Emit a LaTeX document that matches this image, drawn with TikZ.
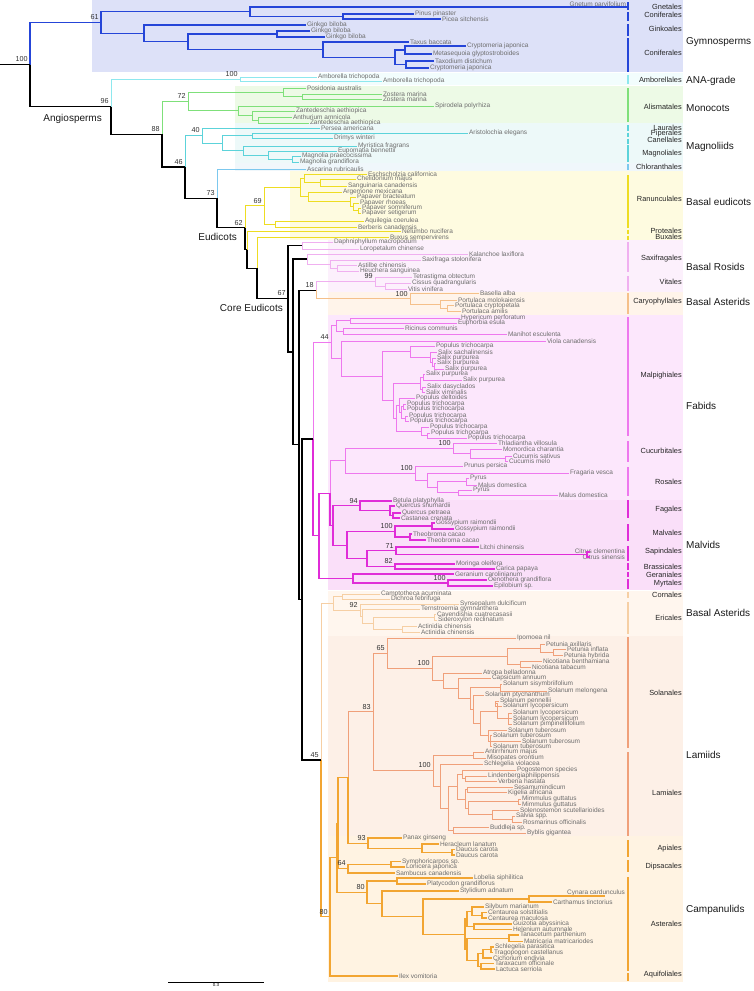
\documentclass[tikz,border=0pt]{standalone}
\usepackage{fontspec}
\setmainfont{Liberation Sans}
\usetikzlibrary{calc}
\definecolor{gymc}{HTML}{2545D8}
\definecolor{anac}{HTML}{8EE8EE}
\definecolor{monc}{HTML}{7FE07A}
\definecolor{magc}{HTML}{5CD3DA}
\definecolor{chlc}{HTML}{7CC8EE}
\definecolor{eudc}{HTML}{EEDD22}
\definecolor{rosc}{HTML}{F0B0F0}
\definecolor{carc}{HTML}{F5C08A}
\definecolor{fabc}{HTML}{EE78EE}
\definecolor{malc}{HTML}{E02CD8}
\definecolor{astc}{HTML}{F6CFA4}
\definecolor{lamc}{HTML}{F0A07A}
\definecolor{camc}{HTML}{F2A532}
\definecolor{bgGym}{HTML}{DDE1F8}
\definecolor{bgAna}{HTML}{F2FDFD}
\definecolor{bgMon}{HTML}{EDFAE6}
\definecolor{bgMag}{HTML}{EDF9F9}
\definecolor{bgChl}{HTML}{F0F7FB}
\definecolor{bgEud}{HTML}{FEFBE0}
\definecolor{bgRos}{HTML}{FCF0FC}
\definecolor{bgCar}{HTML}{FFF4EA}
\definecolor{bgFab}{HTML}{FCE7FC}
\definecolor{bgMal}{HTML}{FADFF9}
\definecolor{bgAst}{HTML}{FFF6EE}
\definecolor{bgLam}{HTML}{FDF0E7}
\definecolor{bgCam}{HTML}{FFF3E2}
\definecolor{tipgray}{HTML}{6E6E6E}
\newcommand\tipfont{\fontsize{6.5}{7}\selectfont}
\newcommand\ordfont{\fontsize{7.4}{8}\selectfont}
\newcommand\grpfont{\fontsize{10}{11}\selectfont}
\newcommand\bootfont{\fontsize{7.2}{8}\selectfont}
% tip: name, x, y, text
\newcommand\leaf[4]{\coordinate (#1) at (#2,#3); \node[tiplab] (#1l) at (#1) {#4};}
% inner node at x, halfway between two children
\newcommand\cladept[4]{\path ($(#3)!.5!(#4)$) coordinate (#1m);
  \path let \p1=(#1m) in coordinate (#1) at (#2pt,\y1);}
\newcommand\clade[5]{\cladept{#2}{#3}{#4}{#5}\draw[#1] (#2) |- (#4) (#2) |- (#5);}
\tikzset{
  tiplab/.style={anchor=west, inner sep=0.8pt, text=tipgray, font=\tipfont},
  ordlab/.style={anchor=east, inner sep=0pt, text=black!85, font=\ordfont},
  grplab/.style={anchor=west, inner sep=0pt, text=black!90, font=\grpfont},
  boot/.style={anchor=south east, inner sep=1pt, xshift=-1.2pt, yshift=1.5pt, text=black!80, font=\bootfont},
  bar/.style={line width=2pt},
  backbone/.style={draw=black, line width=1.2pt},
  gymno/.style={draw=gymc, line width=1.2pt},
  anag/.style={draw=anac, line width=0.9pt},
  monoc/.style={draw=monc, line width=0.9pt},
  magno/.style={draw=magc, line width=0.9pt},
  chlor/.style={draw=chlc, line width=0.9pt},
  beud/.style={draw=eudc, line width=0.9pt},
  bros/.style={draw=rosc, line width=0.9pt},
  cary/.style={draw=carc, line width=0.9pt},
  fabid/.style={draw=fabc, line width=0.9pt},
  malvid/.style={draw=malc, line width=1.1pt},
  bast/.style={draw=astc, line width=0.9pt},
  lamiid/.style={draw=lamc, line width=0.9pt},
  campa/.style={draw=camc, line width=1.1pt}
}
\begin{document}
\begin{tikzpicture}[x=1pt,y=-1pt]
\useasboundingbox (0,0) rectangle (754,991);
% shaded clades
\fill[bgGym] (92,0) rectangle (683,72);
\fill[bgAna] (320,73) rectangle (683,85);
\fill[bgMon] (235,86) rectangle (683,123);
\fill[bgMag] (235,123) rectangle (683,163);
\fill[bgChl] (235,163) rectangle (683,171);
\fill[bgEud] (290,171) rectangle (683,240);
\fill[bgRos] (328,240) rectangle (683,292);
\fill[bgCar] (328,292) rectangle (683,315);
\fill[bgFab] (328,315) rectangle (683,500);
\fill[bgMal] (328,500) rectangle (683,590);
\fill[bgAst] (328,591) rectangle (683,636);
\fill[bgLam] (328,636) rectangle (683,836);
\fill[bgCam] (328,836) rectangle (683,982);

% Gymnosperms
\coordinate (gnet) at (627,7);
\node[tiplab, anchor=east] (gnetl) at (627,4.5) {Gnetum parvifolium};
\leaf{pinus}{414}{14}{Pinus pinaster}
\leaf{picea}{441}{19}{Picea sitchensis}
\leaf{ginkA}{306}{25}{Ginkgo biloba}
\leaf{ginkB}{310}{31}{Ginkgo biloba}
\leaf{ginkC}{325}{37}{Ginkgo biloba}
\leaf{taxus}{409}{42}{Taxus baccata}
\leaf{cryA}{466}{46}{Cryptomeria japonica}
\leaf{meta}{432}{54}{Metasequoia glyptostroboides}
\leaf{taxod}{434}{61}{Taxodium distichum}
\leaf{cryB}{429}{68}{Cryptomeria japonica}
\clade{gymno}{pin}{343}{pinus}{picea}
\clade{gymno}{gnp}{250}{gnet}{pin}
\clade{gymno}{gk2}{277}{ginkB}{ginkC}
\clade{gymno}{cu1}{405}{cryA}{meta}
\clade{gymno}{cu2}{406}{taxod}{cryB}
\clade{gymno}{cu3}{395}{cu1}{cu2}
\clade{gymno}{cu4}{323}{taxus}{cu3}
\clade{gymno}{gk3}{188}{gk2}{cu4}
\clade{gymno}{gk4}{144}{ginkA}{gk3}
\clade{gymno}{gym}{101}{gnp}{gk4}

% ANA grade
\leaf{ambA}{317}{77}{Amborella trichopoda}
\leaf{ambB}{382}{81}{Amborella trichopoda}
\clade{anag}{amb}{240}{ambA}{ambB}

% Monocots
\leaf{posi}{306}{88}{Posidonia australis}
\leaf{zosA}{382}{94}{Zostera marina}
\leaf{zosB}{382}{99}{Zostera marina}
\leaf{spiro}{434}{106}{Spirodela polyrhiza}
\leaf{zantA}{295}{111}{Zantedeschia aethiopica}
\leaf{anth}{292}{117}{Anthurium amnicola}
\leaf{zantB}{309}{123}{Zantedeschia aethiopica}
\clade{monoc}{zos}{302}{zosA}{zosB}
\clade{monoc}{mz1}{283}{posi}{zos}
\clade{monoc}{m4}{258}{anth}{zantB}
\clade{monoc}{m3}{252}{zantA}{m4}
\clade{monoc}{m2}{238}{spiro}{m3}
\clade{monoc}{mono}{188}{mz1}{m2}

% Magnoliids
\leaf{pers}{320}{128}{Persea americana}
\leaf{aris}{468}{133}{Aristolochia elegans}
\leaf{drim}{333}{138}{Drimys winteri}
\leaf{myri}{357}{146}{Myristica fragrans}
\leaf{eupo}{337}{151}{Eupomatia bennettii}
\leaf{magA}{301}{156}{Magnolia praecocissima}
\leaf{magB}{299}{162}{Magnolia grandiflora}
\clade{magno}{mgb}{252}{aris}{drim}
\clade{magno}{mge}{292}{magA}{magB}
\clade{magno}{mgd}{268}{eupo}{mge}
\clade{magno}{mgc}{243}{myri}{mgd}
\clade{magno}{mg1}{222}{mgb}{mgc}
\clade{magno}{mag}{202}{pers}{mg1}

% Chloranthales
\leaf{asca}{306}{169}{Ascarina rubricaulis}

% Basal eudicots
\leaf{esch}{367}{174}{Eschscholzia californica}
\leaf{chel}{356}{179}{Chelidonium majus}
\leaf{sang}{347}{186}{Sanguinaria canadensis}
\leaf{arge}{342}{192}{Argemone mexicana}
\leaf{papA}{356}{197}{Papaver bracteatum}
\leaf{papB}{359}{203}{Papaver rhoeas}
\leaf{papC}{361}{208}{Papaver somniferum}
\leaf{papD}{361}{213}{Papaver setigerum}
\leaf{aqui}{364}{221}{Aquilegia coerulea}
\leaf{berb}{357}{227}{Berberis canadensis}
\leaf{nelu}{401}{231.5}{Nelumbo nucifera}
\leaf{buxu}{389}{237.5}{Buxus sempervirens}
\clade{beud}{pa4}{320}{chel}{sang}
\clade{beud}{pa2}{304}{esch}{pa4}
\clade{beud}{pa7}{358}{papC}{papD}
\clade{beud}{pa6}{353}{papB}{pa7}
\clade{beud}{pa5}{350}{papA}{pa6}
\clade{beud}{pa3}{308}{arge}{pa5}
\clade{beud}{pa1}{300}{pa2}{pa3}
\clade{beud}{rb}{275}{aqui}{berb}
\clade{beud}{ran}{264}{pa1}{rb}

% Saxifragales and Vitales
\leaf{daph}{333}{242}{Daphniphyllum macropodum}
\leaf{loro}{359}{249}{Loropetalum chinense}
\leaf{kala}{468}{254}{Kalanchoe laxiflora}
\leaf{saxi}{421}{260}{Saxifraga stolonifera}
\leaf{asti}{357}{265}{Astilbe chinensis}
\leaf{heuc}{359}{271}{Heuchera sanguinea}
\clade{bros}{s0}{302}{daph}{loro}
\clade{bros}{s3}{337}{asti}{heuc}
\clade{bros}{s2}{330}{saxi}{s3}
\clade{bros}{s1}{307}{kala}{s2}
\leaf{tetr}{412}{277}{Tetrastigma obtectum}
\leaf{ciss}{411}{283}{Cissus quadrangularis}
\leaf{viti}{407}{289}{Vitis vinifera}
\clade{bros}{v2}{385}{ciss}{viti}
\clade{bros}{vit}{375}{tetr}{v2}

% Caryophyllales
\leaf{base}{479}{293.5}{Basella alba}
\leaf{porA}{457}{300}{Portulaca molokaiensis}
\leaf{porB}{454}{305.5}{Portulaca cryptopetala}
\leaf{porC}{461}{311}{Portulaca amilis}
\clade{cary}{p2}{447}{porB}{porC}
\clade{cary}{p1}{440}{porA}{p2}
\clade{cary}{car}{410}{base}{p1}

% Fabids
\leaf{hype}{460}{318}{Hypericum perforatum}
\leaf{euph}{457}{323}{Euphorbia esula}
\leaf{rici}{404}{328}{Ricinus communis}
\leaf{mani}{507}{334}{Manihot esculenta}
\leaf{viol}{546}{341}{Viola canadensis}
\leaf{popA}{435}{346}{Populus trichocarpa}
\leaf{salA}{437}{352}{Salix sachalinensis}
\leaf{salB}{436}{358}{Salix purpurea}
\leaf{salC}{436}{363}{Salix purpurea}
\leaf{salD}{444}{369}{Salix purpurea}
\leaf{salE}{425}{374}{Salix purpurea}
\leaf{salF}{462}{380}{Salix purpurea}
\leaf{salG}{426}{387}{Salix dasyclados}
\leaf{salH}{425}{392}{Salix viminalis}
\leaf{popB}{415}{398}{Populus deltoides}
\leaf{popC}{406}{404}{Populus trichocarpa}
\leaf{popD}{406}{409}{Populus trichocarpa}
\leaf{popE}{408}{416}{Populus trichocarpa}
\leaf{popF}{409}{421}{Populus trichocarpa}
\leaf{popG}{429}{427}{Populus trichocarpa}
\leaf{popH}{430}{433}{Populus trichocarpa}
\leaf{popI}{467}{438}{Populus trichocarpa}
\clade{fabid}{mpa}{350}{hype}{euph}
\clade{fabid}{mpb}{343}{rici}{mani}
\clade{fabid}{mp1}{336}{mpa}{mpb}
\clade{fabid}{sa4}{434}{salC}{salD}
\clade{fabid}{sa3}{432}{salB}{sa4}
\clade{fabid}{sa2}{430}{salA}{sa3}
\clade{fabid}{sa1}{410}{popA}{sa2}
\clade{fabid}{sa8}{423}{salE}{salF}
\clade{fabid}{sa9}{422}{salG}{salH}
\clade{fabid}{sa6}{420}{sa8}{sa9}
\clade{fabid}{sa13}{403}{popC}{popD}
\clade{fabid}{sa14}{405}{popE}{popF}
\clade{fabid}{sa12}{401}{sa13}{sa14}
\clade{fabid}{sa10}{399}{popB}{sa12}
\clade{fabid}{sa15}{427}{popH}{popI}
\clade{fabid}{sa11}{421}{popG}{sa15}
\clade{fabid}{sa7}{396}{sa10}{sa11}
\clade{fabid}{sa5}{393}{sa6}{sa7}
\clade{fabid}{sal}{382}{sa1}{sa5}
\clade{fabid}{mp2}{341}{viol}{sal}
\clade{fabid}{malp}{331}{mp1}{mp2}
\leaf{thla}{497}{443}{Thladiantha villosula}
\leaf{momo}{502}{449}{Momordica charantia}
\leaf{cucA}{512}{456}{Cucumis sativus}
\leaf{cucB}{508}{461}{Cucumis melo}
\clade{fabid}{cb3}{505}{cucA}{cucB}
\clade{fabid}{cb2}{470}{momo}{cb3}
\clade{fabid}{cuc}{453}{thla}{cb2}
\leaf{prun}{463}{466}{Prunus persica}
\leaf{frag}{569}{473}{Fragaria vesca}
\leaf{pyrA}{469}{478}{Pyrus}
\leaf{malA}{477}{485}{Malus domestica}
\leaf{pyrB}{472}{490}{Pyrus}
\leaf{malB}{558}{495}{Malus domestica}
\clade{fabid}{ro4}{466}{pyrA}{malA}
\clade{fabid}{ro5}{458}{pyrB}{malB}
\clade{fabid}{ro3}{437}{ro4}{ro5}
\clade{fabid}{ro2}{427}{frag}{ro3}
\clade{fabid}{ros}{415}{prun}{ro2}
\clade{fabid}{fab2}{345}{cuc}{ros}

% Malvids
\leaf{betu}{392}{501}{Betula platyphylla}
\leaf{querA}{395}{506}{Quercus shumardii}
\leaf{querB}{401}{513}{Quercus petraea}
\leaf{cast}{400}{518}{Castanea crenata}
\clade{malvid}{f3}{393}{querB}{cast}
\clade{malvid}{f2}{390}{querA}{f3}
\clade{malvid}{fag}{360}{betu}{f2}
\leaf{gosA}{435}{523}{Gossypium raimondii}
\leaf{gosB}{454}{529}{Gossypium raimondii}
\leaf{theA}{412}{534}{Theobroma cacao}
\leaf{theB}{426}{540}{Theobroma cacao}
\clade{malvid}{mv1}{432}{gosA}{gosB}
\clade{malvid}{mv2}{410}{theA}{theB}
\clade{malvid}{mal}{395}{mv1}{mv2}
\leaf{litc}{479}{547}{Litchi chinensis}
\coordinate (citA) at (590,552);
\coordinate (citB) at (590,557);
\node[tiplab, anchor=east] (citAl) at (626,551.5) {Citrus clementina};
\node[tiplab, anchor=east] (citBl) at (626,557) {Citrus sinensis};
\clade{malvid}{ci}{587}{citA}{citB}
\clade{malvid}{sap}{396}{litc}{ci}
\leaf{mori}{455}{564}{Moringa oleifera}
\leaf{cari}{495}{569}{Carica papaya}
\clade{malvid}{bra}{395}{mori}{cari}
\clade{malvid}{sb}{367}{sap}{bra}
\clade{malvid}{msb}{347}{mal}{sb}
\clade{malvid}{mlv}{333}{fag}{msb}
\leaf{gera}{454}{574}{Geranium carolinianum}
\leaf{oeno}{487}{580}{Oenothera grandiflora}
\leaf{epil}{493}{586}{Epilobium sp.}
\clade{malvid}{myr}{448}{oeno}{epil}
\clade{malvid}{gm}{353}{gera}{myr}
\cladept{fm}{330}{fab2}{mlv}
\draw[fabid] (fm) |- (fab2);
\draw[malvid] (fm) |- (mlv);
\clade{malvid}{mvd}{319}{fm}{gm}
\cladept{rosid}{313}{malp}{mvd}
\draw[fabid] (rosid) |- (malp);
\draw[malvid] (rosid) |- (mvd);

% Cornales and Ericales
\leaf{camp}{380}{594}{Camptotheca acuminata}
\leaf{dich}{390}{599}{Dichroa febrifuga}
\clade{bast}{cor}{342}{camp}{dich}
\leaf{syns}{459}{604}{Synsepalum dulcificum}
\leaf{tern}{420}{609}{Ternstroemia gymnanthera}
\leaf{cave}{436}{614}{Cavendishia cuatrecasasii}
\leaf{side}{437}{620}{Sideroxylon reclinatum}
\leaf{actA}{417}{626}{Actinidia chinensis}
\leaf{actB}{420}{632}{Actinidia chinensis}
\clade{bast}{er4}{434}{cave}{side}
\clade{bast}{er5}{402}{actA}{actB}
\clade{bast}{er3}{373}{er4}{er5}
\clade{bast}{er2}{362}{tern}{er3}
\clade{bast}{eri}{360}{syns}{er2}
\clade{bast}{ce}{333}{cor}{eri}

% Lamiids
\leaf{ipom}{516}{638}{Ipomoea nil}
\leaf{petA}{545}{644}{Petunia axillaris}
\leaf{petB}{566}{649.5}{Petunia inflata}
\leaf{petC}{563}{655.5}{Petunia hybrida}
\leaf{nicA}{542}{661}{Nicotiana benthamiana}
\leaf{nicB}{531}{667}{Nicotiana tabacum}
\leaf{atro}{482}{673}{Atropa belladonna}
\leaf{caps}{491}{678}{Capsicum annuum}
\leaf{solA}{502}{684}{Solanum sisymbriifolium}
\leaf{solB}{547}{691}{Solanum melongena}
\leaf{solC}{484}{695}{Solanum ptychanthum}
\leaf{solD}{499}{701}{Solanum pennellii}
\leaf{solE}{502}{706}{Solanum lycopersicum}
\leaf{solF}{512}{713}{Solanum lycopersicum}
\leaf{solG}{512}{718.5}{Solanum lycopersicum}
\leaf{solH}{512}{724}{Solanum pimpinellifolium}
\leaf{solI}{507}{730}{Solanum tuberosum}
\leaf{solJ}{492}{735.5}{Solanum tuberosum}
\leaf{solK}{521}{741}{Solanum tuberosum}
\leaf{solL}{492}{746.5}{Solanum tuberosum}
\clade{lamiid}{peti}{553}{petB}{petC}
\clade{lamiid}{petg}{540}{petA}{peti}
\clade{lamiid}{nic}{520}{nicA}{nicB}
\clade{lamiid}{so1}{507}{petg}{nic}
\clade{lamiid}{so5}{500}{solA}{solB}
\clade{lamiid}{so8}{495}{solD}{solE}
\clade{lamiid}{so10}{508}{solF}{solH}
\draw[lamiid] (so10) |- (solG);
\clade{lamiid}{so9}{497}{so8}{so10}
\clade{lamiid}{so12}{490}{solJ}{solL}
\draw[lamiid] (so12) |- (solK);
\clade{lamiid}{so11}{488}{solI}{so12}
\clade{lamiid}{so7}{480}{so9}{so11}
\clade{lamiid}{so6}{473}{solC}{so7}
\clade{lamiid}{so4}{470}{so5}{so6}
\clade{lamiid}{so3}{458}{caps}{so4}
\clade{lamiid}{so2}{443}{atro}{so3}
\clade{lamiid}{sol}{432}{so1}{so2}
\clade{lamiid}{s65}{387}{ipom}{sol}
\leaf{anti}{484}{752}{Antirrhinum majus}
\leaf{miso}{486}{758}{Misopates orontium}
\leaf{schv}{483}{764}{Schlegelia violacea}
\leaf{pogo}{516}{770}{Pogostemon species}
\leaf{lind}{487}{776}{Lindenbergiaphilippensis}
\leaf{verb}{497}{781.5}{Verbena hastata}
\leaf{sesa}{513}{787}{Sesamumindicum}
\leaf{kige}{507}{792.5}{Kigelia africana}
\leaf{mimA}{521}{799}{Mimmulus guttatus}
\leaf{mimB}{521}{804.5}{Mimmulus guttatus}
\leaf{sole}{519}{810.5}{Solenostemon scutellarioides}
\leaf{salv}{515}{816}{Salvia spp.}
\leaf{rosm}{522}{822}{Rosmarinus officinalis}
\leaf{budd}{489}{827.5}{Buddleja sp.}
\leaf{bybl}{526}{833}{Byblis gigantea}
\clade{lamiid}{laa}{473}{anti}{miso}
\clade{lamiid}{lag}{465}{lind}{verb}
\clade{lamiid}{laf}{462}{pogo}{lag}
\clade{lamiid}{lai}{467}{sesa}{kige}
\clade{lamiid}{mim}{518}{mimA}{mimB}
\clade{lamiid}{lal}{512}{salv}{rosm}
\clade{lamiid}{lak}{492}{sole}{lal}
\clade{lamiid}{laj}{468}{mim}{lak}
\clade{lamiid}{lah}{465}{lai}{laj}
\clade{lamiid}{lad}{457}{laf}{lah}
\clade{lamiid}{lae}{453}{budd}{bybl}
\clade{lamiid}{lac}{448}{lad}{lae}
\clade{lamiid}{lab}{440}{schv}{lac}
\clade{lamiid}{lam}{433}{laa}{lab}
\clade{lamiid}{s83}{373}{s65}{lam}

% Campanulids
\leaf{pana}{402}{838}{Panax ginseng}
\leaf{hera}{439}{844}{Heracleum lanatum}
\leaf{dauA}{455}{849.5}{Daucus carota}
\leaf{dauB}{455}{855}{Daucus carota}
\clade{campa}{dau}{452}{dauA}{dauB}
\clade{campa}{ap2}{422}{hera}{dau}
\clade{campa}{api}{368}{pana}{ap2}
\cladept{lmd}{348}{s83}{api}
\draw[lamiid] (lmd) |- (s83);
\draw[campa] (lmd) |- (api);
\leaf{symp}{401}{861.5}{Symphoricarpos sp.}
\leaf{loni}{405}{867}{Lonicera japonica}
\leaf{samb}{395}{873}{Sambucus canadensis}
\clade{campa}{dl}{391}{symp}{loni}
\clade{campa}{dip}{348}{dl}{samb}
\clade{campa}{yn}{338}{lmd}{dip}
\leaf{lobe}{473}{878}{Lobelia siphilitica}
\leaf{plat}{426}{884}{Platycodon grandiflorus}
\leaf{styl}{459}{891}{Stylidium adnatum}
\coordinate (cyna) at (605,896);
\node[tiplab, anchor=east] (cynal) at (626,893) {Cynara cardunculus};
\leaf{cart}{552}{902}{Carthamus tinctorius}
\leaf{sily}{484}{907}{Silybum marianum}
\leaf{ceA}{487}{912.5}{Centaurea solstitialis}
\leaf{ceB}{487}{918}{Centaurea maculosa}
\leaf{guiz}{512}{924}{Guizotia abyssinica}
\leaf{hele}{512}{929.5}{Helenium autumnale}
\leaf{tana}{519}{935}{Tanacetum parthenium}
\leaf{matr}{523}{941.5}{Matricaria matricariodes}
\leaf{schp}{494}{947}{Schlegelia parasitica}
\leaf{trag}{493}{952.5}{Tragopogon castellanus}
\leaf{cich}{492}{958}{Cichorium endivia}
\leaf{tara}{494}{963.5}{Taraxacum officinale}
\leaf{lact}{495}{969}{Lactuca serriola}
\leaf{ilex}{398}{976}{Ilex vomitoria}
\clade{campa}{lp}{397}{lobe}{plat}
\clade{campa}{cc}{529}{cyna}{cart}
\clade{campa}{as6}{482}{ceA}{ceB}
\clade{campa}{as5}{472}{sily}{as6}
\clade{campa}{as7}{474}{guiz}{hele}
\clade{campa}{as4}{467}{as5}{as7}
\clade{campa}{as9}{509}{tana}{matr}
\clade{campa}{as12}{491}{schp}{trag}
\clade{campa}{as11}{483}{as12}{cich}
\clade{campa}{as13}{481}{tara}{lact}
\clade{campa}{as10}{478}{as11}{as13}
\clade{campa}{as8}{467}{as9}{as10}
\clade{campa}{as3}{465}{as4}{as8}
\clade{campa}{as2}{423}{cc}{as3}
\clade{campa}{as1}{382}{styl}{as2}
\clade{campa}{ast}{367}{lp}{as1}
\clade{campa}{xn}{337}{yn}{ast}
\clade{campa}{c80}{330}{xn}{ilex}
\cladept{a45}{321}{ce}{c80}
\draw[bast] (a45) |- (ce);
\draw[campa] (a45) |- (c80);

% backbone
\clade{backbone}{n302}{302}{rosid}{a45}
\cladept{n18}{316}{vit}{car}
\draw[bros] (n18) |- (vit);
\draw[cary] (n18) |- (car);
\clade{backbone}{n299}{299}{n18}{n302}
\clade{backbone}{n293}{293}{s1}{n299}
\clade{backbone}{n67}{288}{s0}{n293}
\cladept{n257}{257}{buxu}{n67}
\draw[beud] (n257) |- (buxu);
\draw[backbone] (n257) |- (n67);
\cladept{x62}{247}{nelu}{n257}
\draw[beud] (x62) |- (nelu);
\draw[backbone] (x62) |- (n257);
\cladept{n62}{245}{ran}{x62}
\draw[beud] (n62) |- (ran);
\draw[backbone] (n62) |- (x62);
\cladept{n73}{217}{asca}{n62}
\draw[chlor] (n73) |- (asca);
\draw[backbone] (n73) |- (n62);
\cladept{n46}{185}{mag}{n73}
\draw[magno] (n46) |- (mag);
\draw[backbone] (n46) |- (n73);
\cladept{n88}{162}{mono}{n46}
\draw[monoc] (n88) |- (mono);
\draw[backbone] (n88) |- (n46);
\cladept{ang}{111}{amb}{n88}
\draw[anag] (ang) |- (amb);
\draw[backbone] (ang) |- (n88);
\cladept{root}{30}{gym}{ang}
\draw[gymno] (root) |- (gym);
\draw[backbone] (root) |- (ang);
\path let \p1=(root) in coordinate (rootbase) at (0pt,\y1);
\draw[backbone] (rootbase) -- (root);

% support values
\node[boot] (b-root) at (root) {100};
\node[boot] (b-gym) at (gym) {61};
\node[boot] (b-ang) at (ang) {96};
\node[boot] (b-amb) at (amb) {100};
\node[boot] (b-mono) at (mono) {72};
\node[boot] (b-n88) at (n88) {88};
\node[boot] (b-mag) at (mag) {40};
\node[boot] (b-n46) at (n46) {46};
\node[boot] (b-n73) at (n73) {73};
\node[boot] (b-ran) at (ran) {69};
\node[boot] (b-n62) at (n62) {62};
\node[boot] (b-n67) at (n67) {67};
\node[boot] (b-n18) at (n18) {18};
\node[boot] (b-vit) at (vit) {99};
\node[boot] (b-car) at (car) {100};
\node[boot] (b-malp) at (malp) {44};
\node[boot] (b-cuc) at (cuc) {100};
\node[boot] (b-ros) at (ros) {100};
\node[boot] (b-fag) at (fag) {94};
\node[boot] (b-mal) at (mal) {100};
\node[boot] (b-sap) at (sap) {71};
\node[boot] (b-bra) at (bra) {82};
\node[boot] (b-myr) at (myr) {100};
\node[boot] (b-eri) at (eri) {92};
\node[boot] (b-s65) at (s65) {65};
\node[boot] (b-sol) at (sol) {100};
\node[boot] (b-s83) at (s83) {83};
\node[boot] (b-a45) at (a45) {45};
\node[boot] (b-lam) at (lam) {100};
\node[boot] (b-api) at (api) {93};
\node[boot] (b-dip) at (dip) {64};
\node[boot] (b-ast) at (ast) {80};
\node[boot] (b-c80) at (c80) {80};

% names on the backbone
\node[grplab, anchor=east] (angio) at (102,119) {Angiosperms};
\node[grplab, anchor=east] (eudi) at (237,237) {Eudicots};
\node[grplab, anchor=east] (coreeu) at (283,308) {Core Eudicots};

% orders
\draw[gymno,bar] (628,2) -- (628,10);
\node[ordlab] (o-gne) at (682,7) {Gnetales};
\draw[gymno,bar] (628,12) -- (628,21);
\node[ordlab] (o-con1) at (682,15) {Coniferales};
\draw[gymno,bar] (628,24) -- (628,36);
\node[ordlab] (o-gin) at (682,29) {Ginkoales};
\draw[gymno,bar] (628,38) -- (628,72);
\node[ordlab] (o-con2) at (682,53) {Coniferales};
\draw[anag,bar] (628,75) -- (628,84);
\node[ordlab] (o-amb) at (682,80) {Amborellales};
\draw[monoc,bar] (628,88) -- (628,122);
\node[ordlab] (o-ali) at (682,107) {Alismatales};
\draw[magno,bar] (628,125) -- (628,131);
\node[ordlab] (o-lau) at (682,127.5) {Laurales};
\draw[magno,bar] (628,132.5) -- (628,137);
\node[ordlab] (o-pip) at (682,133.5) {Piperales};
\draw[magno,bar] (628,138.5) -- (628,143.5);
\node[ordlab] (o-can) at (682,139.5) {Canellales};
\draw[magno,bar] (628,145) -- (628,162);
\node[ordlab] (o-mag) at (682,154) {Magnoliales};
\draw[chlor,bar] (628,164) -- (628,170);
\node[ordlab] (o-chl) at (682,166.5) {Chloranthales};
\draw[beud,bar] (628,175) -- (628,228);
\node[ordlab] (o-ran) at (682,199) {Ranunculales};
\draw[beud,bar] (628,229.5) -- (628,234);
\node[ordlab] (o-pro) at (682,230.5) {Proteales};
\draw[beud,bar] (628,235.5) -- (628,240);
\node[ordlab] (o-bux) at (682,237) {Buxales};
\draw[bros,bar] (628,242) -- (628,272);
\node[ordlab] (o-sax) at (682,259) {Saxifragales};
\draw[bros,bar] (628,276) -- (628,291);
\node[ordlab] (o-vit) at (682,282) {Vitales};
\draw[cary,bar] (628,293) -- (628,314);
\node[ordlab] (o-car) at (682,302) {Caryophyllales};
\draw[fabid,bar] (628,317) -- (628,436);
\node[ordlab] (o-mal) at (682,376) {Malpighiales};
\draw[fabid,bar] (628,441) -- (628,462);
\node[ordlab] (o-cuc) at (682,451) {Cucurbitales};
\draw[fabid,bar] (628,467) -- (628,496);
\node[ordlab] (o-ros) at (682,482) {Rosales};
\draw[malvid,bar] (628,500) -- (628,518);
\node[ordlab] (o-fag) at (682,510) {Fagales};
\draw[malvid,bar] (628,524) -- (628,541);
\node[ordlab] (o-mlv) at (682,533) {Malvales};
\draw[malvid,bar] (628,546) -- (628,561);
\node[ordlab] (o-sap) at (682,552) {Sapindales};
\draw[malvid,bar] (628,563) -- (628,570);
\node[ordlab] (o-bra) at (682,566.5) {Brassicales};
\draw[malvid,bar] (628,572) -- (628,577);
\node[ordlab] (o-ger) at (682,575) {Geraniales};
\draw[malvid,bar] (628,579) -- (628,589);
\node[ordlab] (o-myr) at (682,584) {Myrtales};
\draw[bast,bar] (628,592) -- (628,598);
\node[ordlab] (o-cor) at (682,595) {Cornales};
\draw[bast,bar] (628,602) -- (628,634);
\node[ordlab] (o-eri) at (682,618) {Ericales};
\draw[lamiid,bar] (628,637) -- (628,748);
\node[ordlab] (o-sol) at (682,693) {Solanales};
\draw[lamiid,bar] (628,752) -- (628,836);
\node[ordlab] (o-lam) at (682,793) {Lamiales};
\draw[campa,bar] (628,840) -- (628,857);
\node[ordlab] (o-api) at (682,849) {Apiales};
\draw[campa,bar] (628,860) -- (628,872);
\node[ordlab] (o-dip) at (682,867) {Dipsacales};
\draw[campa,bar] (628,877) -- (628,971);
\node[ordlab] (o-ast) at (682,924) {Asterales};
\draw[campa,bar] (628,973) -- (628,981);
\node[ordlab] (o-aqu) at (682,975) {Aquifoliales};

% major groups
\node[grplab] (g-gym) at (686,42) {Gymnosperms};
\node[grplab] (g-ana) at (686,81) {ANA-grade};
\node[grplab] (g-mon) at (686,108) {Monocots};
\node[grplab] (g-mag) at (686,147) {Magnoliids};
\node[grplab] (g-eud) at (686,202) {Basal eudicots};
\node[grplab] (g-ros) at (686,267) {Basal Rosids};
\node[grplab] (g-ast1) at (686,302) {Basal Asterids};
\node[grplab] (g-fab) at (686,406) {Fabids};
\node[grplab] (g-mlv) at (686,545) {Malvids};
\node[grplab] (g-ast2) at (686,613) {Basal Asterids};
\node[grplab] (g-lam) at (686,755) {Lamiids};
\node[grplab] (g-cam) at (686,910) {Campanulids};

% scale bar
\coordinate (sbA) at (168,982);
\coordinate (sbB) at (264,982);
\draw[line width=0.6pt] (sbA) -- (sbB) node[midway, below=1.5pt, inner sep=0pt, font=\fontsize{4.5}{5}\selectfont] (sblab) {0.3};
\end{tikzpicture}
\end{document}
